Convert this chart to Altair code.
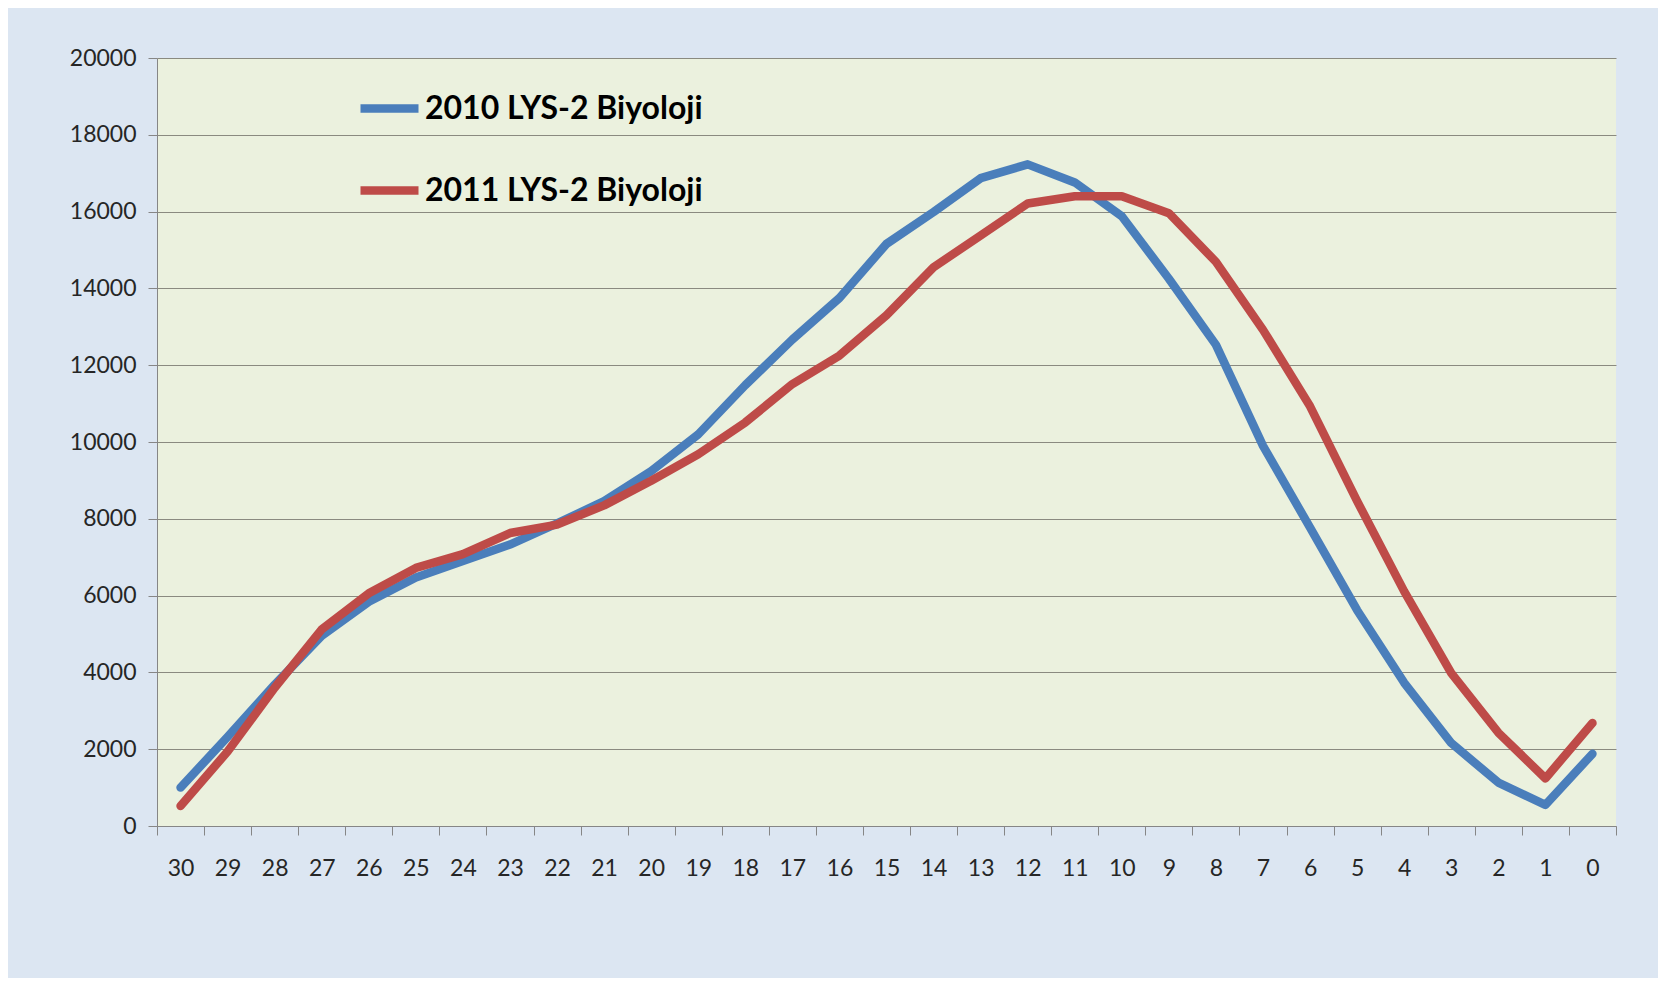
import altair as alt
import pandas as pd

scores = [str(v) for v in range(30, -1, -1)]
s2010 = [1000, 2320, 3680, 4950, 5840, 6470, 6900, 7330, 7880, 8460, 9240,
         10200, 11480, 12670, 13750, 15160, 15990, 16870, 17230, 16760, 15880,
         14250, 12530, 9900, 7770, 5620, 3730, 2160, 1130, 550, 1880]
s2011 = [520, 1940, 3600, 5120, 6060, 6720, 7080, 7630, 7850, 8350, 8990,
         9680, 10510, 11510, 12250, 13300, 14550, 15380, 16210, 16400, 16400,
         15960, 14690, 12920, 10930, 8460, 6110, 3980, 2430, 1240, 2680]
series = ["2010 LYS-2 Biyoloji", "2011 LYS-2 Biyoloji"]
colors = ["#4a7ebb", "#be4b48"]

rows = []
for name, vals in zip(series, [s2010, s2011]):
    for sc, v in zip(scores, vals):
        rows.append({"puan": sc, "sayi": v, "seri": name})
df = pd.DataFrame(rows)

chart = alt.Chart(df).mark_line(strokeWidth=8.5, strokeCap="round", strokeJoin="round").encode(
    x=alt.X("puan:N", sort=scores, title=None,
            scale=alt.Scale(paddingInner=0, paddingOuter=0),
            axis=alt.Axis(labelAngle=0, tickBand="extent", grid=False,
                          tickSize=9, labelPadding=22, domainColor="#868686",
                          tickColor="#868686", labelFontSize=23,
                          labelFont="Lato", labelColor="#262626")),
    y=alt.Y("sayi:Q", title=None,
            scale=alt.Scale(domain=[0, 20000], nice=False),
            axis=alt.Axis(values=list(range(0, 20001, 2000)), format="d",
                          tickSize=9, labelPadding=12, domainColor="#868686",
                          tickColor="#868686", gridColor="#8a8a80",
                          gridWidth=1.2, labelFontSize=23,
                          labelFont="Lato", labelColor="#262626")),
    color=alt.Color("seri:N", scale=alt.Scale(domain=series, range=colors),
                    legend=alt.Legend(title=None, orient="none", legendX=199,
                                      legendY=17, symbolType="stroke",
                                      symbolStrokeWidth=8.5, symbolSize=3364,
                                      labelFontSize=32, labelFont="Lato",
                                      labelFontWeight="bold", labelColor="#000000",
                                      labelOffset=2, rowPadding=31,
                                      labelLimit=500)),
).properties(
    width=1459, height=768,
    autosize=alt.AutoSizeParams(type="none"),
    padding={"left": 149, "top": 50, "right": 42, "bottom": 152},
    background="#dce6f2",
).configure_view(fill="#ebf1de", stroke=None)

chart.save("out.html", embed_options={"renderer": "svg", "actions": False})
